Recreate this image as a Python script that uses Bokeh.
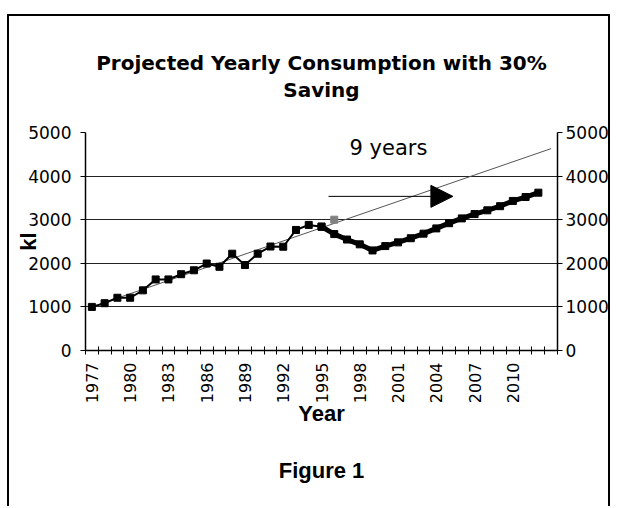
import math
from bokeh.plotting import figure
from bokeh.models import Range1d, FixedTicker, LinearAxis, Title, Label, Arrow, NormalHead
from bokeh.embed import file_html
from bokeh.resources import INLINE

# ---- data ----
categories = list(range(1977, 2014))
tick_label_years = list(range(1977, 2011, 3))
actual_years = list(range(1977, 1996))
actual_kl = [1000, 1085, 1210, 1210, 1380, 1630, 1630, 1750, 1840, 1995,
             1920, 2220, 1960, 2220, 2385, 2380, 2765, 2880, 2840]
projected_years = list(range(1995, 2013))
projected_kl = [2840, 2670, 2545, 2435, 2295, 2395, 2480, 2575, 2680, 2800,
                2920, 3030, 3130, 3215, 3310, 3430, 3520, 3620]
trend_years = [1977, 2013]
trend_kl = [1000, 4630]
marker_year = [1996]
marker_kl = [3000]
y_ticks = [0, 1000, 2000, 3000, 4000, 5000]

# annotation constants
arrow_start = (1995.55, 3535)
arrow_end = (2005.3, 3535)
note_pos = (2000.25, 4640)

NUM_FONT = "DejaVu Sans"
BOLD_FONT = "Liberation Sans"

p = figure(width=603, height=492, output_backend="svg", toolbar_location=None,
           title=None,
           x_range=Range1d(categories[0] - 0.5, categories[-1] + 0.5),
           y_range=Range1d(0, 5000),
           min_border_left=76, min_border_right=55, min_border_top=116,
           min_border_bottom=158,
           styles={"margin-left": "7px", "margin-top": "14px",
                   "border-left": "2px solid black",
                   "border-right": "2px solid black",
                   "border-top": "2px solid black"})
p.outline_line_color = None
p.background_fill_color = "white"
p.border_fill_color = "white"

boundaries = [c - 0.5 for c in categories] + [categories[-1] + 0.5]

# x axis
xa = p.xaxis[0]
xa.ticker = FixedTicker(ticks=tick_label_years, minor_ticks=boundaries)
xa.major_tick_in = 0
xa.major_tick_out = 0
xa.minor_tick_in = 4
xa.minor_tick_out = 4
xa.minor_tick_line_color = "black"
xa.axis_line_color = "black"
xa.axis_line_width = 1.5
xa.major_label_orientation = math.pi / 2
xa.major_label_standoff = 8
xa.major_label_text_font = NUM_FONT
xa.major_label_text_font_size = "16px"
xa.major_label_text_color = "black"
xa.axis_label = "Year"
xa.axis_label_text_font = BOLD_FONT
xa.axis_label_text_font_style = "bold"
xa.axis_label_text_font_size = "22px"
xa.axis_label_text_color = "black"
xa.axis_label_standoff = -5

# y axes
def style_y(ax):
    ax.ticker = FixedTicker(ticks=y_ticks)
    ax.major_tick_in = 0
    ax.major_tick_out = 5
    ax.minor_tick_in = 0
    ax.minor_tick_out = 0
    ax.axis_line_color = "black"
    ax.axis_line_width = 1.5
    ax.major_tick_line_color = "black"
    ax.major_label_text_font = NUM_FONT
    ax.major_label_text_font_size = "17px"
    ax.major_label_text_color = "black"

ya = p.yaxis[0]
style_y(ya)
ya.major_label_standoff = 9
ya.axis_label = "kl"
ya.axis_label_text_font = BOLD_FONT
ya.axis_label_text_font_style = "bold"
ya.axis_label_text_font_size = "22px"
ya.axis_label_text_color = "black"
ya.axis_label_standoff = -16

ra = LinearAxis()
style_y(ra)
ra.major_label_standoff = 3
p.add_layout(ra, "right")

p.xgrid.visible = False
p.ygrid.ticker = FixedTicker(ticks=y_ticks)
p.ygrid.grid_line_color = "#222222"
p.ygrid.grid_line_width = 1

# titles
p.add_layout(Title(text="Saving", align="center", text_font=NUM_FONT,
                   text_font_style="bold", text_font_size="20px",
                   text_color="black", standoff=61), "above")
p.add_layout(Title(text="Projected Yearly Consumption with 30%", align="center",
                   text_font=NUM_FONT, text_font_style="bold",
                   text_font_size="20px", text_color="black", standoff=-58), "above")
p.add_layout(Title(text="Figure 1", align="center", text_font=BOLD_FONT,
                   text_font_style="bold", text_font_size="22px",
                   text_color="black", standoff=52), "below")

# series
p.line(trend_years, trend_kl, line_color="#555555", line_width=1)
p.line(actual_years, actual_kl, line_color="black", line_width=2)
p.scatter(actual_years, actual_kl, marker="square", size=7,
          fill_color="black", line_color="black")
p.line(projected_years, projected_kl, line_color="black", line_width=5)
p.scatter(projected_years, projected_kl, marker="square", size=7,
          fill_color="black", line_color="black")
p.scatter(marker_year, marker_kl, marker="square", size=7,
          fill_color="#808080", line_color="#808080")

# annotations
p.add_layout(Arrow(x_start=arrow_start[0], y_start=arrow_start[1],
                   x_end=arrow_end[0], y_end=arrow_end[1],
                   line_color="black", line_width=1,
                   end=NormalHead(size=22, fill_color="black", line_color="black")))
p.add_layout(Label(x=note_pos[0], y=note_pos[1], text="9 years",
                   text_align="center", text_baseline="alphabetic",
                   text_font=NUM_FONT, text_font_size="21px", text_color="black"))

open("out.html", "w").write(file_html(p, INLINE, title="Projected Yearly Consumption"))
